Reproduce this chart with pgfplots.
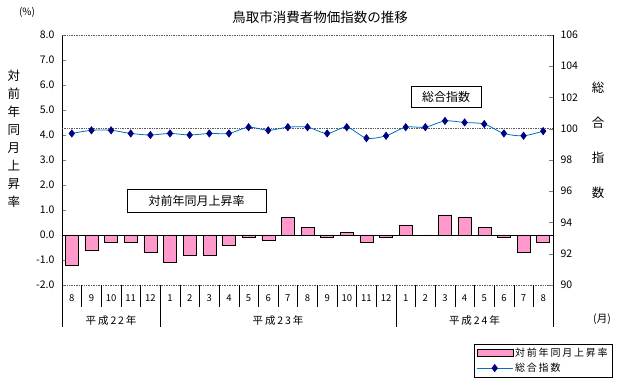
\documentclass[border=0pt]{standalone}
\usepackage{fontspec}
\setmainfont{Noto Sans CJK JP}
\usepackage{pgfplots}
\usepackage{pgfplotstable}
\pgfplotsset{compat=1.18}
\definecolor{barpink}{HTML}{FF99CC}
\definecolor{linecol}{HTML}{0070C0}
\definecolor{markcol}{HTML}{000080}
\pgfplotstableread{
x rate idx
1 -1.2 99.7
2 -0.6 99.9
3 -0.3 99.9
4 -0.3 99.7
5 -0.7 99.6
6 -1.1 99.7
7 -0.8 99.6
8 -0.8 99.7
9 -0.4 99.7
10 -0.1 100.1
11 -0.2 99.9
12 0.7 100.1
13 0.3 100.1
14 -0.1 99.7
15 0.1 100.1
16 -0.3 99.4
17 -0.1 99.55
18 0.4 100.1
19 0.0 100.1
20 0.8 100.5
21 0.7 100.4
22 0.3 100.3
23 -0.1 99.7
24 -0.7 99.55
25 -0.3 99.85
}\datatable
\tikzset{gridline/.style={gray!70!black, densely dotted, line width=0.7pt}}
\newcommand{\spaced}{\addfontfeature{LetterSpace=18}}
\begin{document}
\begin{tikzpicture}
\path[use as bounding box] (0pt,0pt) rectangle (621pt,385pt);
\begin{axis}[at={(62pt,100pt)}, anchor=south west, scale only axis,
  width=491pt, height=250pt,
  xmin=0.5, xmax=25.5, ymin=-2, ymax=8,
  axis y line*=left, axis x line*=bottom,
  x axis line style={gridline,-}, y axis line style={black,-},
  ytick={-2,-1,...,8},
  yticklabel={\pgfmathprintnumber[fixed,fixed zerofill,precision=1]{\tick}},
  /pgf/number format/assume math mode=true,
  tick align=inside, major tick length=4pt,
  xtick={1,...,25}, xtick style={draw=none},
  xticklabels={8,9,10,11,12,1,2,3,4,5,6,7,8,9,10,11,12,1,2,3,4,5,6,7,8},
  xticklabel style={anchor=center, yshift=-13pt, font=\fontsize{9.5}{10}\selectfont},
  yticklabel style={font=\fontsize{10.5}{11}\selectfont, xshift=-4pt},
  clip=false]
\addplot[ybar, bar width=13pt, fill=barpink, draw=black] table[x=x, y=rate] {\datatable};
\draw[black] (axis cs:0.5,0) -- (axis cs:25.5,0);
\pgfplotsinvokeforeach{0,...,25}{\draw[black] (axis cs:#1+0.5,-2) -- ([yshift=-22pt]axis cs:#1+0.5,-2);}
\pgfplotsinvokeforeach{0,5,17,25}{\draw[black] (axis cs:#1+0.5,-2) -- ([yshift=-42pt]axis cs:#1+0.5,-2);}
\node[font=\fontsize{10.5}{11}\selectfont\spaced] at ([yshift=-36pt]axis cs:3,-2) {平成22年};
\node[font=\fontsize{10.5}{11}\selectfont\spaced] at ([yshift=-36pt]axis cs:11.5,-2) {平成23年};
\node[font=\fontsize{10.5}{11}\selectfont\spaced] at ([yshift=-36pt]axis cs:21.5,-2) {平成24年};
\end{axis}
\begin{axis}[at={(62pt,100pt)}, anchor=south west, scale only axis,
  width=491pt, height=250pt,
  xmin=0.5, xmax=25.5, ymin=90, ymax=106,
  axis y line*=right, axis x line=none,
  y axis line style={black,-},
  ytick={90,92,...,106},
  /pgf/number format/assume math mode=true,
  tick align=inside, major tick length=4pt,
  yticklabel style={font=\fontsize{10.5}{11}\selectfont, xshift=4pt},
  legend style={at={(1.12,-0.236)}, anchor=north east, draw=black,
    font=\fontsize{10}{11}\selectfont\spaced, cells={anchor=west},
    row sep=1pt, inner xsep=2pt, inner ysep=2pt},
  clip=false]
\draw[gridline] (rel axis cs:0,1) -- (rel axis cs:1,1);
\draw[gridline] (axis cs:0.5,100) -- (axis cs:25.5,100);
\addlegendimage{legend image code/.code={\draw[fill=barpink,draw=black] (0pt,-3.5pt) rectangle (36pt,3.5pt);}}
\addlegendentry{対前年同月上昇率}
\addplot[linecol, line width=0.8pt, smooth, mark=diamond*, mark size=3.5pt,
  mark options={fill=markcol, draw=markcol},
  legend image code/.code={\draw[linecol, line width=0.8pt, mark=diamond*, mark size=3.5pt, mark options={fill=markcol,draw=markcol}, mark repeat=2, mark phase=2] plot coordinates {(0pt,0pt) (18pt,0pt) (36pt,0pt)};}]
  table[x=x, y=idx] {\datatable};
\addlegendentry{総合指数}
\end{axis}
\node[font=\fontsize{13.5}{14}\selectfont] at (320pt,368pt) {鳥取市消費者物価指数の推移};
\node[font=\fontsize{10}{10}\selectfont] at (27pt,373pt) {(\%)};
\node[font=\fontsize{12.5}{18}\selectfont, align=center] at (14pt,246pt) {対\\前\\年\\同\\月\\上\\昇\\率};
\node[font=\fontsize{12.5}{35}\selectfont, align=center] at (598pt,245pt) {総\\合\\指\\数};
\node[font=\fontsize{10.5}{11}\selectfont] at (602pt,66pt) {(月)};
\node[draw=black, fill=white, font=\fontsize{12}{13}\selectfont, minimum width=139pt, minimum height=23pt, inner sep=0pt] at (196.5pt,184.5pt) {対前年同月上昇率};
\node[draw=black, fill=white, font=\fontsize{12}{13}\selectfont, minimum width=70pt, minimum height=21pt, inner sep=0pt] at (446pt,288.5pt) {総合指数};
\end{tikzpicture}
\end{document}
